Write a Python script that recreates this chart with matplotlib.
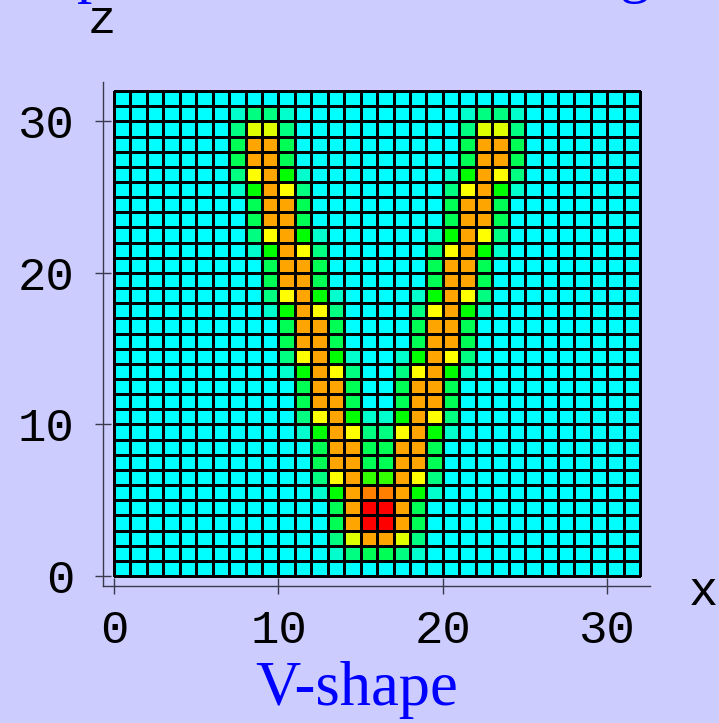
import matplotlib
matplotlib.use('Agg')
import matplotlib.pyplot as plt
import numpy as np
from matplotlib.colors import ListedColormap, BoundaryNorm

# ---- data -------------------------------------------------------------
# colour of each level code (0 = background cyan ... A = red)
level_colors = ['#00FFFF', '#00FFCC', '#00FF80', '#00FF55', '#00FF00',
                '#33FF00', '#DDFF00', '#FFFF00', '#FFA500', '#FF8000',
                '#FF0000']

# cell level codes, one string per row, from the top row (z=31) to z=0
grid_rows = [
    "00000000000000000000000000000000",  # z=31
    "00000001221000000000012210000000",  # z=30
    "00000002662000000000026620000000",  # z=29
    "00000003883000000000038830000000",  # z=28
    "00000003883000000000038830000000",  # z=27
    "00000002784100000000148720000000",  # z=26
    "00000001487200000000278410000000",  # z=25
    "00000000388300000000388300000000",  # z=24
    "00000000388300000000388300000000",  # z=23
    "00000000278410000001487200000000",  # z=22
    "00000000148720000002784100000000",  # z=21
    "00000000038830000003883000000000",  # z=20
    "00000000038830000003883000000000",  # z=19
    "00000000027841000014872000000000",  # z=18
    "00000000014872000027841000000000",  # z=17
    "00000000003883000038830000000000",  # z=16
    "00000000003883000038830000000000",  # z=15
    "00000000002784100148720000000000",  # z=14
    "00000000001487200278410000000000",  # z=13
    "00000000000388300388300000000000",  # z=12
    "00000000000388300388300000000000",  # z=11
    "00000000000278411487200000000000",  # z=10
    "00000000000148722784100000000000",  # z=9
    "00000000000038833883000000000000",  # z=8
    "00000000000038833883000000000000",  # z=7
    "00000000000027855872000000000000",  # z=6
    "00000000000014899841000000000000",  # z=5
    "000000000000038AA830000000000000",  # z=4
    "000000000000038AA830000000000000",  # z=3
    "00000000000002688620000000000000",  # z=2
    "00000000000001233210000000000000",  # z=1
    "00000000000000000000000000000000",  # z=0
]

x_ticks = [0, 10, 20, 30]
z_ticks = [0, 10, 20, 30]
x_label = 'x'
z_label = 'z'
caption = 'V-shape'
title = 'plan view of the setting'

# ---- figure -----------------------------------------------------------
BG = '#CCCCFF'
codes = np.array([[int(ch, 16) for ch in row] for row in grid_rows])[::-1]
n_rows, n_cols = codes.shape

fig = plt.figure(figsize=(7.19, 7.23), dpi=100, facecolor=BG)
ax = fig.add_axes([0.1433, 0.1895, 0.7608, 0.6971])
ax.set_facecolor('none')

cmap = ListedColormap(level_colors)
norm = BoundaryNorm(np.arange(-0.5, len(level_colors) + 0.5), len(level_colors))
ax.pcolormesh(np.arange(n_cols + 1), np.arange(n_rows + 1), codes,
              cmap=cmap, norm=norm, edgecolors='black', linewidth=0.8)

ax.set_xlim(-0.67, 32.6)
ax.set_ylim(-0.66, 32.6)

for s in ['top', 'right']:
    ax.spines[s].set_visible(False)
for s in ['left', 'bottom']:
    ax.spines[s].set_color('#3a3a4a')
    ax.spines[s].set_linewidth(1.0)

ax.set_xticks(x_ticks)
ax.set_yticks(z_ticks)
ax.set_xticklabels([str(v) for v in x_ticks])
ax.set_yticklabels([str(v) for v in z_ticks])
ax.tick_params(direction='inout', length=11, width=1.0, color='#3a3a4a',
               labelsize=34, labelcolor='black')
ax.tick_params(axis='y', pad=15)
ax.tick_params(axis='x', pad=11)
for lab in ax.get_xticklabels() + ax.get_yticklabels():
    lab.set_family('Liberation Mono')

fig.text(102 / 719, 1 - 33 / 723, z_label, family='Liberation Mono',
         fontsize=34, ha='center', va='baseline', color='black')
fig.text(703 / 719, 1 - 605 / 723, x_label, family='Liberation Mono',
         fontsize=35, ha='center', va='baseline', color='black')

fig.text(357 / 719, 1 - 705 / 723, caption, family='Liberation Serif',
         fontsize=45, ha='center', va='baseline', color='#0000FF')
fig.text(77 / 719, 1 + 9 / 723, title, family='Liberation Serif',
         fontsize=44, ha='left', va='baseline', color='#0000FF')

fig.savefig('out.png', dpi=100, facecolor=BG)
